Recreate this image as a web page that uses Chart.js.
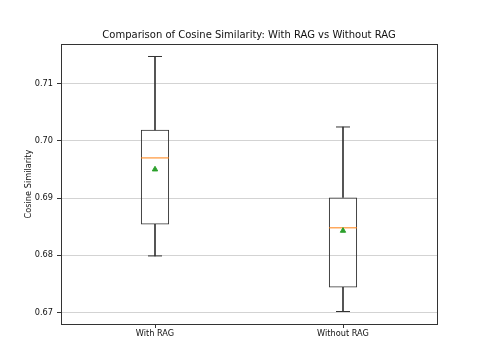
<!DOCTYPE html>
<html>
<head>
<meta charset="utf-8">
<script src="https://cdn.jsdelivr.net/npm/chart.js@4"></script>
<style>
  html, body { margin: 0; padding: 0; background: #fff; }
  #wrap { width: 485px; height: 363px; }
</style>
</head>
<body>
<div id="wrap"><canvas id="boxChart" width="485" height="363"></canvas></div>
<script>
const categories = ['With RAG', 'Without RAG'];
const whiskerLow = [0.6799, 0.6702];
const q1 = [0.6854, 0.6744];
const median = [0.6970, 0.6848];
const q3 = [0.7019, 0.6901];
const whiskerHigh = [0.7147, 0.7024];
const means = [0.6950, 0.6843];
const yTicks = [0.67, 0.68, 0.69, 0.70, 0.71];
const yMin = 0.66802, yMax = 0.71688;

const ink = '#333333';
const font = 'DejaVu Sans';

// outline of the plot area (matplotlib spines)
const frame = {
  id: 'frame',
  afterDraw(chart) {
    const a = chart.chartArea, ctx = chart.ctx;
    ctx.save();
    ctx.strokeStyle = ink;
    ctx.lineWidth = 1;
    ctx.strokeRect(Math.round(a.left) + 0.5, Math.round(a.top) + 0.5,
      Math.round(a.right - a.left), Math.round(a.bottom - a.top));
    ctx.restore();
  }
};

new Chart(document.getElementById('boxChart'), {
  data: {
    labels: categories,
    datasets: [
      {
        type: 'line', data: means, showLine: false,
        pointStyle: 'triangle', pointRadius: 3.1,
        backgroundColor: '#2ca02c', borderColor: '#2ca02c', borderWidth: 1
      },
      {
        type: 'line', data: median, showLine: false,
        pointStyle: 'line', pointRadius: 14,
        borderColor: '#ff7f0e', borderWidth: 1
      },
      {
        type: 'line', data: whiskerHigh, showLine: false,
        pointStyle: 'line', pointRadius: 7,
        borderColor: ink, borderWidth: 1
      },
      {
        type: 'line', data: whiskerLow, showLine: false,
        pointStyle: 'line', pointRadius: 7,
        borderColor: ink, borderWidth: 1
      },
      {
        type: 'bar', grouped: false,
        data: categories.map((c, i) => [q1[i], q3[i]]),
        backgroundColor: 'rgba(0,0,0,0)', borderColor: ink,
        borderWidth: 1, borderSkipped: false,
        barPercentage: 0.15, categoryPercentage: 1
      },
      {
        type: 'bar', grouped: false,
        data: categories.map((c, i) => [q3[i], whiskerHigh[i]]),
        backgroundColor: ink, borderWidth: 0, barThickness: 1
      },
      {
        type: 'bar', grouped: false,
        data: categories.map((c, i) => [whiskerLow[i], q1[i]]),
        backgroundColor: ink, borderWidth: 0, barThickness: 1
      }
    ]
  },
  options: {
    responsive: false,
    animation: false,
    layout: { padding: { left: 0, right: 48, top: 0, bottom: 0 } },
    plugins: {
      legend: { display: false },
      tooltip: { enabled: false },
      title: {
        display: true,
        fullSize: false,
        text: 'Comparison of Cosine Similarity: With RAG vs Without RAG',
        color: '#111',
        font: { family: font, size: 10, weight: 'normal' },
        padding: { top: 29, bottom: 3 }
      }
    },
    scales: {
      x: {
        type: 'category',
        offset: true,
        border: { display: false },
        grid: { drawOnChartArea: false, offset: false, tickLength: 4, tickColor: ink },
        ticks: { color: '#111', padding: 1, font: { family: font, size: 8.2 } },
        afterFit(scale) { scale.height = 39; }
      },
      y: {
        type: 'linear',
        min: yMin, max: yMax,
        border: { display: false },
        grid: { color: '#d3d3d3', tickColor: ink, tickLength: 4 },
        ticks: {
          stepSize: 0.01, padding: 4, color: '#111',
          font: { family: font, size: 8.2 },
          callback: v => v.toFixed(2)
        },
        afterBuildTicks(scale) {
          scale.ticks = yTicks.map(v => ({ value: v }));
        },
        title: {
          display: true, text: 'Cosine Similarity', color: '#111',
          font: { family: font, size: 8.2 },
          padding: { top: 24, bottom: 0 }
        },
        afterFit(scale) { scale.width = 61; }
      }
    }
  },
  plugins: [frame]
});
</script>
</body>
</html>
